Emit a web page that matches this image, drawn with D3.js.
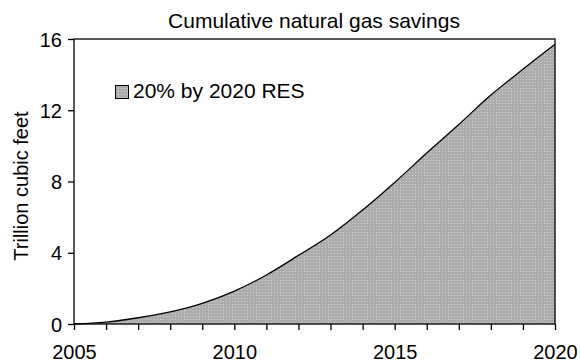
<!DOCTYPE html>
<html><head><meta charset="utf-8">
<script src="https://cdn.jsdelivr.net/npm/d3@7"></script>
<style>body{margin:0;background:#fff}svg{display:block}text{font-family:"Liberation Sans",Arial,sans-serif;fill:#000}</style>
</head><body><svg id="c" width="581" height="364"></svg>
<script>
const years = [2005,2006,2007,2008,2009,2010,2011,2012,2013,2014,2015,2016,2017,2018,2019,2020];
const savings = [0,0.1,0.35,0.68,1.16,1.85,2.75,3.85,5.0,6.4,7.95,9.6,11.2,12.85,14.3,15.7];
const yTicks = [0,4,8,12,16];
const xLabels = [2005,2010,2015,2020];
const title = "Cumulative natural gas savings";
const yLabel = "Trillion cubic feet";
const seriesName = "20% by 2020 RES";

const svg = d3.select("#c");
const m = {l:74,r:26,t:39,b:40};
const W = 581, H = 364;
const x = d3.scaleLinear().domain([2005,2020]).range([m.l, W-m.r]);
const y = d3.scaleLinear().domain([0,16]).range([H-m.b, m.t]);

const defs = svg.append("defs");
const pat = defs.append("pattern").attr("id","dots").attr("patternUnits","userSpaceOnUse").attr("width",3).attr("height",3);
pat.append("rect").attr("width",3).attr("height",3).attr("fill","#acacac");
pat.append("rect").attr("x",1).attr("y",1).attr("width",1).attr("height",1).attr("fill","#d0d0d0");

const data = years.map((d,i)=>({x:d,y:savings[i]}));
const area = d3.area().x(d=>x(d.x)).y0(y(0)).y1(d=>y(d.y)).curve(d3.curveMonotoneX);
const line = d3.line().x(d=>x(d.x)).y(d=>y(d.y)).curve(d3.curveMonotoneX);
svg.append("path").datum(data).attr("d",area).attr("fill","url(#dots)");
svg.append("path").datum(data).attr("d",line).attr("fill","none").attr("stroke","#000").attr("stroke-width",1.3);

svg.append("rect").attr("x",x(2005)).attr("y",y(16)).attr("width",x(2020)-x(2005)).attr("height",y(0)-y(16))
  .attr("fill","none").attr("stroke","#000").attr("stroke-width",1.3);

const xAxis = svg.append("g").attr("transform",`translate(0,${y(0)})`)
  .call(d3.axisBottom(x).tickValues(years).tickSize(6).tickFormat(d=>xLabels.includes(d)?d:""));
xAxis.select(".domain").remove();
xAxis.selectAll("line").attr("stroke","#000").attr("stroke-width",1.3);
xAxis.selectAll("text").attr("font-size",20).attr("y",35).attr("dy",0);

const yAxis = svg.append("g").attr("transform",`translate(${x(2005)},0)`)
  .call(d3.axisLeft(y).tickValues(yTicks).tickSize(6).tickFormat(d3.format("d")));
yAxis.select(".domain").remove();
yAxis.selectAll("line").attr("stroke","#000").attr("stroke-width",1.3);
yAxis.selectAll("text").attr("font-size",20).attr("x",-12).attr("dy","0.36em");

svg.append("text").attr("x",314).attr("y",28).attr("text-anchor","middle").attr("font-size",21).text(title);
svg.append("text").attr("transform",`translate(28,186) rotate(-90)`).attr("text-anchor","middle").attr("font-size",20).text(yLabel);

svg.append("rect").attr("x",115.5).attr("y",85.5).attr("width",13).attr("height",13).attr("fill","url(#dots)").attr("stroke","#000").attr("stroke-width",1);
svg.append("text").attr("x",133).attr("y",98).attr("font-size",21).text(seriesName);
</script></body></html>
